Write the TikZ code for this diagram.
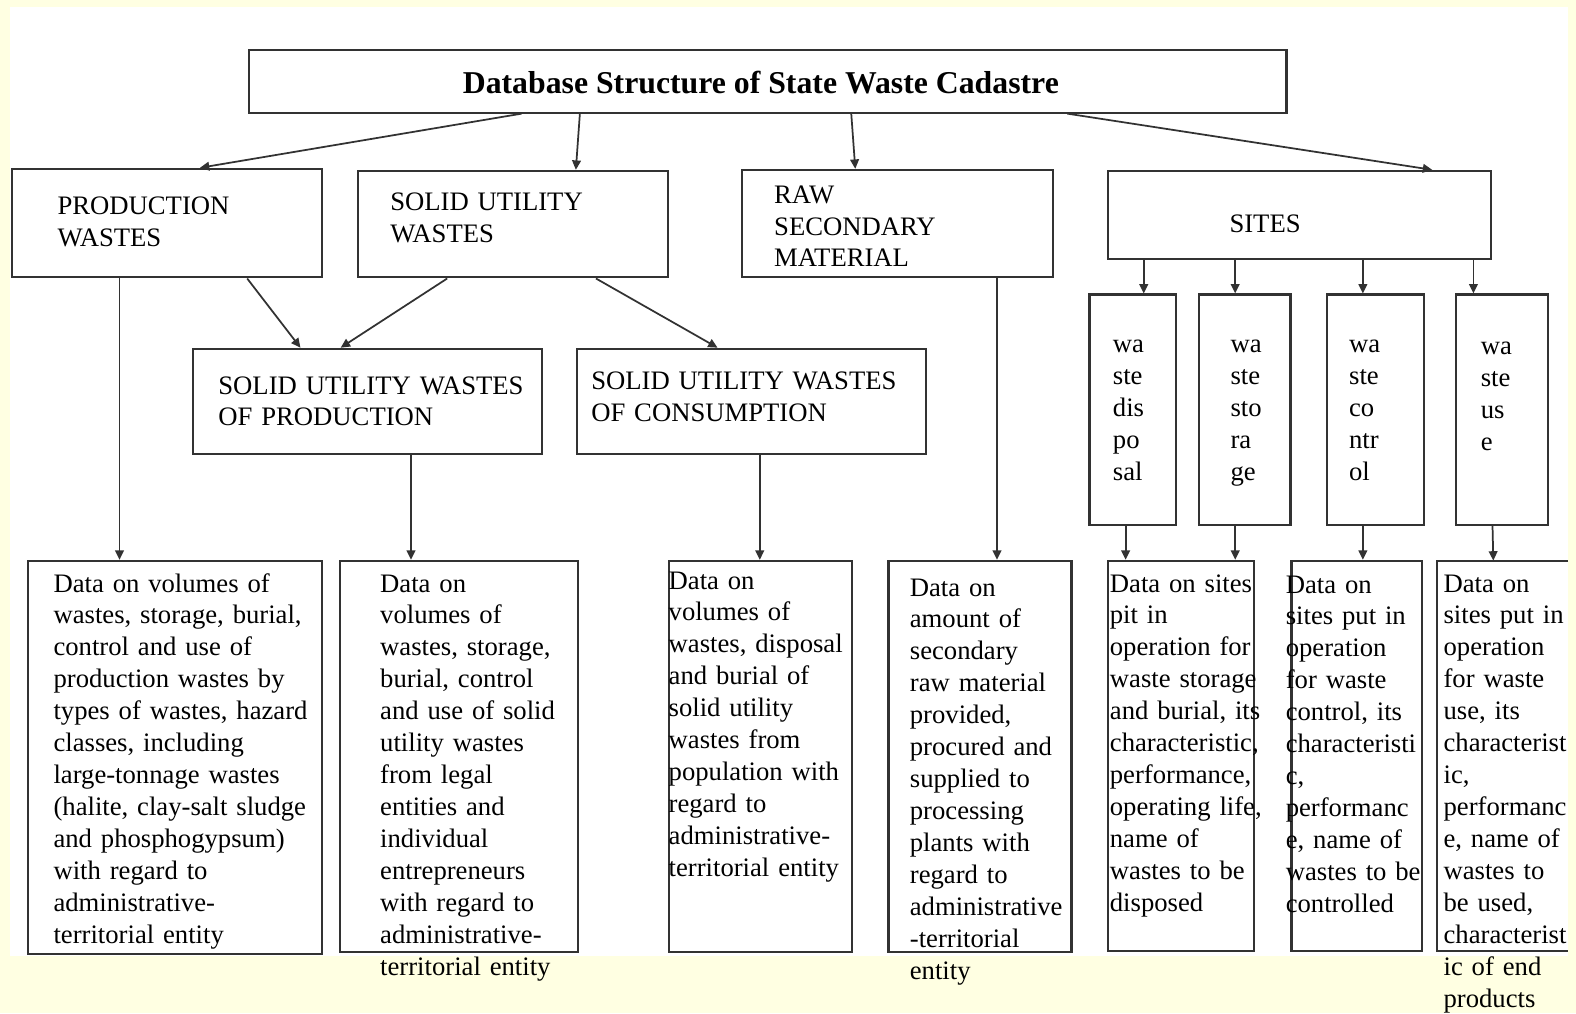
\documentclass[tikz,border=0pt]{standalone}
\usepackage{fontspec}
\setmainfont{Liberation Serif}
\usetikzlibrary{fit,calc,arrows.meta}
\definecolor{bgyellow}{RGB}{255,255,226}
\definecolor{boxline}{RGB}{50,50,50}
\begin{document}
\begin{tikzpicture}[x=0.75pt,y=-0.75pt,
  box/.style={draw=boxline,line width=1.6pt,inner sep=0pt,fit={#1}},
  openbox/.style={draw=none,inner sep=0pt,fit={#1}},
  txt/.style={anchor=base west,inner sep=0pt,align=left,text width=300pt,
    font=\fontsize{19.9}{23.85}\selectfont},
  arr/.style={draw=boxline,line width=1.3pt,-{Triangle[length=7pt,width=6.5pt]}}]
\useasboundingbox (0,0) rectangle (1568,1008);
\fill[bgyellow] (0,0) rectangle (1568,1008);
\fill[white] (10,7) rectangle (1560,951);

% boxes
\node[box={(248,50) (1280,112)}] (title) {};
\node[box={(12,168) (320,276)}] (pw) {};
\node[box={(356,170) (665,276)}] (suw) {};
\node[box={(738,169) (1048,276)}] (raw) {};
\node[box={(1102,170) (1483,258)}] (sites) {};
\node[box={(192,347) (539,452)}] (suwp) {};
\node[box={(574,347) (921,452)}] (suwc) {};
\node[box={(1084,293) (1170,522)}] (s1) {};
\node[box={(1193,293) (1284,522)}] (s2) {};
\node[box={(1320,293) (1417,522)}] (s3) {};
\node[box={(1449,293) (1540,522)}] (s4) {};
\node[box={(28,558) (320,949)}] (b1) {};
\node[box={(338,558) (575,947)}] (b2) {};
\node[box={(666,558) (848,947)}] (b3) {};
\node[box={(884,558) (1066,947)}] (b4) {};
\node[box={(1102,558) (1248,946)}] (b5) {};
\node[box={(1285,558) (1415,946)}] (b6) {};
\node[openbox={(1430,558) (1560,946)}] (b7) {};
\draw[draw=boxline,line width=1.6pt] (b7.north east) -- (b7.north west) -- (b7.south west) -- (b7.south east);

% texts
\node[anchor=base,inner sep=0pt,font=\fontsize{23.7}{28}\selectfont\bfseries] (titlet) at (757,93) {Database Structure of State Waste Cadastre};
\node[txt] (pwt) at (57,213) {PRODUCTION\\WASTES};
\node[txt] (suwt) at (388,209) {SOLID UTILITY\\WASTES};
\node[txt] (rawt) at (770,202) {RAW\\SECONDARY\\MATERIAL};
\node[txt] (sitest) at (1223,231) {SITES};
\node[txt] (suwpt) at (217,392) {SOLID UTILITY WASTES\\OF PRODUCTION};
\node[txt] (suwct) at (588,388) {SOLID UTILITY WASTES\\OF CONSUMPTION};
\node[txt] (s1t) at (1107,351) {wa\\ste\\dis\\po\\sal};
\node[txt] (s2t) at (1224,351) {wa\\ste\\sto\\ra\\ge};
\node[txt] (s3t) at (1342,351) {wa\\ste\\co\\ntr\\ol};
\node[txt] (s4t) at (1473,353) {wa\\ste\\us\\e};
\node[txt] (b1t) at (53,589) {Data on volumes of\\wastes, storage, burial,\\control and use of\\production wastes by\\types of wastes, hazard\\classes, including\\large-tonnage wastes\\(halite, clay-salt sludge\\and phosphogypsum)\\with regard to\\administrative-\\territorial entity};
\node[txt] (b2t) at (378,589) {Data on\\volumes of\\wastes, storage,\\burial, control\\and use of solid\\utility wastes\\from legal\\entities and\\individual\\entrepreneurs\\with regard to\\administrative-\\territorial entity};
\node[txt] (b3t) at (665,586) {Data on\\volumes of\\wastes, disposal\\and burial of\\solid utility\\wastes from\\population with\\regard to\\administrative-\\territorial entity};
\node[txt] (b4t) at (905,593) {Data on\\amount of\\secondary\\raw material\\provided,\\procured and\\supplied to\\processing\\plants with\\regard to\\administrative\\-territorial\\entity};
\node[txt] (b5t) at (1104,589) {Data on sites\\pit in\\operation for\\waste storage\\and burial, its\\characteristic,\\performance,\\operating life,\\name of\\wastes to be\\disposed};
\node[txt] (b6t) at (1279,590) {Data on\\sites put in\\operation\\for waste\\control, its\\characteristi\\c,\\performanc\\e, name of\\wastes to be\\controlled};
\node[txt] (b7t) at (1436,589) {Data on\\sites put in\\operation\\for waste\\use, its\\characterist\\ic,\\performanc\\e, name of\\wastes to\\be used,\\characterist\\ic of end\\products};

% connectors
\draw[arr] ($(title.south west)+(272,0)$) -- ($(pw.north west)+(188,0)$);
\draw[arr] ($(title.south west)+(330,0)$) -- ($(suw.north west)+(218,0)$);
\draw[arr] ($(title.south west)+(600,0)$) -- ($(raw.north west)+(114,0)$);
\draw[arr] ($(title.south west)+(815,0)$) -- ($(sites.north west)+(324,0)$);
\draw[arr] ($(pw.south west)+(108,0)$) -- ($(b1.north west)+(92,0)$);
\draw[arr] ($(pw.south west)+(235,0)$) -- ($(suwp.north west)+(108,0)$);
\draw[arr] ($(suw.south west)+(90,0)$) -- ($(suwp.north west)+(148,0)$);
\draw[arr] ($(suw.south west)+(238,0)$) -- ($(suwc.north west)+(141,0)$);
\draw[arr] ($(suwp.south west)+(218,0)$) -- ($(b2.north west)+(72,0)$);
\draw[arr] ($(suwc.south west)+(183,0)$) -- ($(b3.north west)+(91,0)$);
\draw[arr] ($(raw.south west)+(255,0)$) -- ($(b4.north west)+(109,0)$);
\draw[arr] ($(sites.south west)+(37,0)$) -- ($(s1.north west)+(55,0)$);
\draw[arr] ($(sites.south west)+(128,0)$) -- ($(s2.north west)+(37,0)$);
\draw[arr] ($(sites.south west)+(255,0)$) -- ($(s3.north west)+(37,0)$);
\draw[arr] ($(sites.south west)+(365,0)$) -- ($(s4.north west)+(18,0)$);
\draw[arr] ($(s1.south west)+(37,0)$) -- ($(b5.north west)+(19,0)$);
\draw[arr] ($(s2.south west)+(37,0)$) -- ($(b5.north west)+(128,0)$);
\draw[arr] ($(s3.south west)+(37,0)$) -- ($(b6.north west)+(72,0)$);
\draw[arr] ($(s4.south west)+(37,0)$) -- ($(b7.north west)+(56,0)$);
\end{tikzpicture}
\end{document}
